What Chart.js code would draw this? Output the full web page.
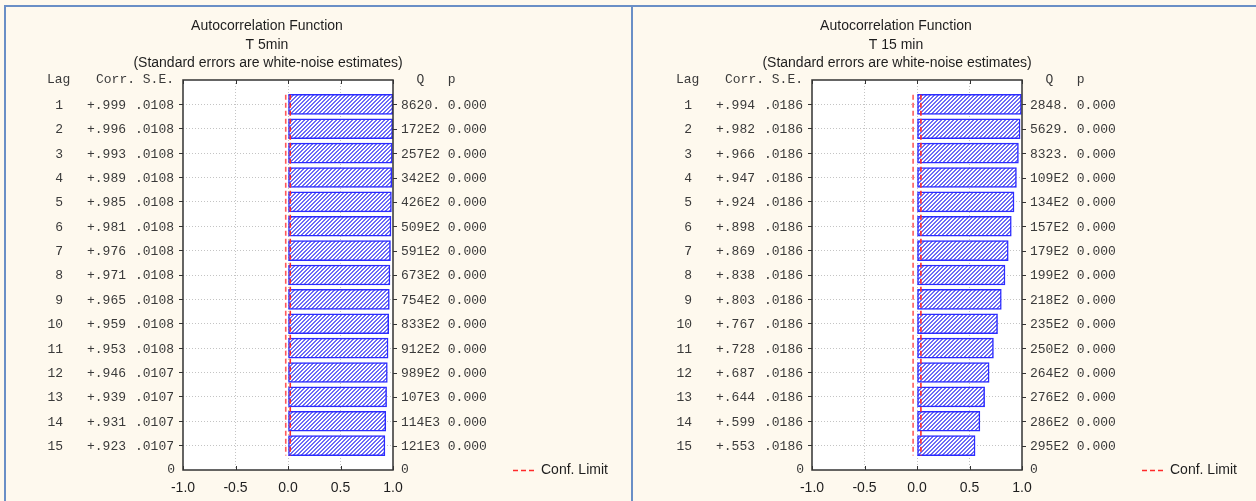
<!DOCTYPE html>
<html lang="en">
<head>
<meta charset="utf-8">
<title>Autocorrelation Function</title>
<script src="https://cdn.jsdelivr.net/npm/chart.js@4.4.0/dist/chart.umd.min.js"></script>
<style>
  html, body { margin: 0; padding: 0; }
  body { width: 1256px; height: 501px; overflow: hidden; background: #fef9ee; position: relative; }
  .edge { position: absolute; background: #6a8fc6; }
  canvas { position: absolute; top: 0; }
</style>
</head>
<body>
<div class="edge" style="left:4px;top:5px;width:2px;height:496px"></div>
<div class="edge" style="left:4px;top:5px;width:1252px;height:2px"></div>
<div class="edge" style="left:631px;top:5px;width:2px;height:496px"></div>
<canvas id="acf5" width="629" height="501" style="left:0px"></canvas>
<canvas id="acf15" width="629" height="501" style="left:629px"></canvas>

<script>
// ---- data ----
var lags = [1, 2, 3, 4, 5, 6, 7, 8, 9, 10, 11, 12, 13, 14, 15];
var xTicks = [-1.0, -0.5, 0.0, 0.5, 1.0];

var corr5 = [0.999, 0.996, 0.993, 0.989, 0.985, 0.981, 0.976, 0.971, 0.965, 0.959, 0.953, 0.946, 0.939, 0.931, 0.923];
var se5 = [0.0108, 0.0108, 0.0108, 0.0108, 0.0108, 0.0108, 0.0108, 0.0108, 0.0108, 0.0108, 0.0108, 0.0107, 0.0107, 0.0107, 0.0107];
var q5 = ["8620.", "172E2", "257E2", "342E2", "426E2", "509E2", "591E2", "673E2", "754E2", "833E2", "912E2", "989E2", "107E3", "114E3", "121E3"];
var p5 = ["0.000", "0.000", "0.000", "0.000", "0.000", "0.000", "0.000", "0.000", "0.000", "0.000", "0.000", "0.000", "0.000", "0.000", "0.000"];

var corr15 = [0.994, 0.982, 0.966, 0.947, 0.924, 0.898, 0.869, 0.838, 0.803, 0.767, 0.728, 0.687, 0.644, 0.599, 0.553];
var se15 = [0.0186, 0.0186, 0.0186, 0.0186, 0.0186, 0.0186, 0.0186, 0.0186, 0.0186, 0.0186, 0.0186, 0.0186, 0.0186, 0.0186, 0.0186];
var q15 = ["2848.", "5629.", "8323.", "109E2", "134E2", "157E2", "179E2", "199E2", "218E2", "235E2", "250E2", "264E2", "276E2", "286E2", "295E2"];
var p15 = ["0.000", "0.000", "0.000", "0.000", "0.000", "0.000", "0.000", "0.000", "0.000", "0.000", "0.000", "0.000", "0.000", "0.000", "0.000"];

var SANS = '14px "Liberation Sans", Arial, sans-serif';
var MONO = '13px "Liberation Mono", "Courier New", monospace';

// diagonal hatch used to fill the bars
function hatchPattern() {
  var c = document.createElement('canvas');
  c.width = 4; c.height = 4;
  var g = c.getContext('2d');
  g.fillStyle = '#ffffff';
  g.fillRect(0, 0, 4, 4);
  g.fillStyle = '#6c6cf6';
  for (var i = 0; i < 4; i++) {
    g.fillRect(i, 3 - i, 1, 1);
    g.fillRect((i + 1) % 4, 3 - i, 1, 1);
  }
  return g.createPattern(c, 'repeat');
}

function fmtCorr(v) {
  return (v >= 0 ? '+' : '-') + Math.abs(v).toFixed(3).replace(/^0/, '');
}
function fmtSE(v) {
  return v.toFixed(4).replace(/^0/, '');
}

// conf. limit line points (2 * S.E.)
function confLine(se, sign) {
  var pts = [{x: sign * 2 * se[0], y: 0.6}];
  lags.forEach(function(l, i) { pts.push({x: sign * 2 * se[i], y: l}); });
  pts.push({x: sign * 2 * se[se.length - 1], y: 15.4});
  return pts;
}

function makeChart(id, subtitle, corr, se, q, p) {
  var textPlugin = {
    id: 'acfText',
    beforeDraw: function(chart) {
      var a = chart.chartArea, ctx = chart.ctx;
      ctx.save();
      ctx.fillStyle = '#ffffff';
      ctx.fillRect(a.left, a.top, a.right - a.left, a.bottom - a.top);
      ctx.restore();
    },
    afterDraw: function(chart) {
      var a = chart.chartArea, ctx = chart.ctx;
      var ys = chart.scales.y, xs = chart.scales.x;
      ctx.save();

      // frame
      ctx.strokeStyle = '#333333';
      ctx.lineWidth = 1.5;
      ctx.strokeRect(a.left, a.top, a.right - a.left, a.bottom - a.top);

      // inner ticks on top / bottom, outer ticks on right
      ctx.lineWidth = 1;
      xTicks.forEach(function(v) {
        var px = Math.round(xs.getPixelForValue(v)) + 0.5;
        ctx.beginPath();
        ctx.moveTo(px, a.top); ctx.lineTo(px, a.top + 4);
        ctx.moveTo(px, a.bottom); ctx.lineTo(px, a.bottom - 4);
        ctx.stroke();
      });
      lags.forEach(function(l) {
        var py = Math.round(ys.getPixelForValue(l)) + 0.5;
        ctx.beginPath();
        ctx.moveTo(a.right, py); ctx.lineTo(a.right + 4, py);
        ctx.stroke();
      });

      // titles
      ctx.fillStyle = '#1e1e1e';
      ctx.font = SANS;
      ctx.textAlign = 'center';
      ctx.textBaseline = 'middle';
      ctx.fillText('Autocorrelation Function', 267, 26);
      ctx.fillText(subtitle, 267, 45);
      ctx.fillText('(Standard errors are white-noise estimates)', 268, 63);

      // table columns
      ctx.font = MONO;
      ctx.fillStyle = '#3a3a3a';
      ctx.textAlign = 'left';
      ctx.fillText('Lag', 47, 80);
      ctx.textAlign = 'right';
      ctx.fillText('Corr. S.E.', 174, 80);
      ctx.textAlign = 'left';
      ctx.fillText('  Q   p', 401, 80);

      lags.forEach(function(l, i) {
        var py = ys.getPixelForValue(l) + 1;
        ctx.textAlign = 'right';
        ctx.fillText(String(l), 63, py);
        ctx.textAlign = 'left';
        ctx.fillText(fmtCorr(corr[i]), 87, py);
        ctx.fillText(fmtSE(se[i]), 135, py);
        ctx.fillText(q[i] + ' ' + p[i], 401, py);
      });
      var pz = ys.getPixelForValue(16);
      ctx.textAlign = 'right';
      ctx.fillText('0', 175, pz);
      ctx.textAlign = 'left';
      ctx.fillText('0', 401, pz);

      // legend
      ctx.strokeStyle = '#ff2a2a';
      ctx.lineWidth = 1.5;
      ctx.setLineDash([5, 3]);
      ctx.beginPath();
      ctx.moveTo(513, pz + 0.5); ctx.lineTo(534, pz + 0.5);
      ctx.stroke();
      ctx.setLineDash([]);
      ctx.font = SANS;
      ctx.fillStyle = '#1e1e1e';
      ctx.fillText('Conf. Limit', 541, pz);
      ctx.restore();
    }
  };

  var lightGrid = function(edgeMin, edgeMax) {
    return function(c) {
      var v = c.tick ? c.tick.value : null;
      return (v === edgeMin || v === edgeMax) ? 'rgba(0,0,0,0)' : '#c4c4c4';
    };
  };

  return new Chart(document.getElementById(id).getContext('2d'), {
    type: 'bar',
    data: {
      datasets: [
        {
          type: 'bar',
          data: lags.map(function(l, i) { return {x: corr[i], y: l}; }),
          backgroundColor: hatchPattern(),
          borderColor: '#2c2cff',
          borderWidth: 1.5,
          borderSkipped: false,
          barThickness: 20,
          order: 2
        },
        {
          type: 'line',
          data: confLine(se, 1),
          borderColor: '#ff2a2a',
          borderWidth: 1.6,
          borderDash: [5, 3],
          pointRadius: 0,
          fill: false,
          order: 1
        },
        {
          type: 'line',
          data: confLine(se, -1),
          borderColor: '#ff5a5a',
          borderWidth: 1.6,
          borderDash: [5, 3],
          pointRadius: 0,
          fill: false,
          order: 1
        }
      ]
    },
    options: {
      indexAxis: 'y',
      responsive: false,
      animation: false,
      devicePixelRatio: 1,
      layout: { padding: { left: 183, right: 236, top: 80, bottom: 0 } },
      plugins: { legend: { display: false }, tooltip: { enabled: false } },
      scales: {
        x: {
          type: 'linear',
          min: -1, max: 1,
          afterBuildTicks: function(s) { s.ticks = xTicks.map(function(v) { return {value: v}; }); },
          afterFit: function(s) { s.height = 31; },
          ticks: {
            font: { family: '"Liberation Sans", Arial, sans-serif', size: 14 },
            color: '#1e1e1e',
            padding: 10,
            maxRotation: 0,
            callback: function(v) { return Number(v).toFixed(1); }
          },
          grid: { color: lightGrid(-1, 1), drawTicks: false, lineWidth: 1 },
          border: { display: false, dash: [1, 2] }
        },
        y: {
          type: 'linear',
          reverse: true,
          offset: false,
          min: 0, max: 16,
          afterFit: function(s) { s.width = 0; },
          ticks: { display: false, stepSize: 1 },
          grid: {
            offset: false,
            color: lightGrid(0, 16),
            tickColor: function(c) { return (c.tick && c.tick.value > 0 && c.tick.value < 16) ? '#333333' : 'rgba(0,0,0,0)'; },
            tickLength: 4,
            tickBorderDash: [],
            lineWidth: 1
          },
          border: { display: false, dash: [1, 2] }
        }
      }
    },
    plugins: [textPlugin]
  });
}

makeChart('acf5', 'T 5min', corr5, se5, q5, p5);
makeChart('acf15', 'T 15 min', corr15, se15, q15, p15);
</script>
</body>
</html>
